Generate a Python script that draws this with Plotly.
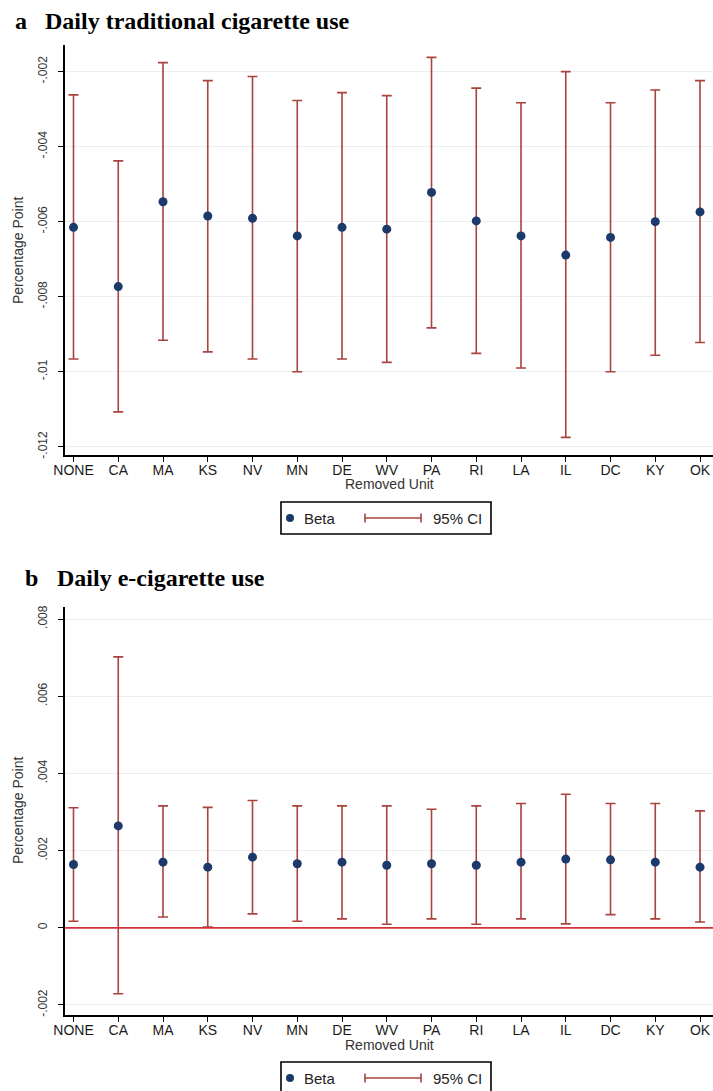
import plotly.graph_objects as go
import numpy as np

units = ["NONE", "CA", "MA", "KS", "NV", "MN", "DE", "WV", "PA", "RI", "LA", "IL", "DC", "KY", "OK"]

# Panel a: Daily traditional cigarette use
beta_a = [-0.00615, -0.00773, -0.00547, -0.00585, -0.00591, -0.00638, -0.00615, -0.00620,
          -0.00522, -0.00598, -0.00638, -0.00689, -0.00642, -0.00600, -0.00574]
upper_a = [-0.00262, -0.00438, -0.00176, -0.00224, -0.00213, -0.00277, -0.00256, -0.00264,
           -0.00162, -0.00244, -0.00283, -0.00200, -0.00283, -0.00249, -0.00224]
lower_a = [-0.00966, -0.01107, -0.00916, -0.00947, -0.00966, -0.01000, -0.00966, -0.00975,
           -0.00883, -0.00951, -0.00990, -0.01175, -0.01000, -0.00956, -0.00922]

# Panel b: Daily e-cigarette use
beta_b = [0.00164, 0.00264, 0.00170, 0.00157, 0.00183, 0.00166, 0.00170, 0.00162,
          0.00166, 0.00162, 0.00170, 0.00178, 0.00176, 0.00170, 0.00157]
upper_b = [0.00311, 0.00702, 0.00316, 0.00312, 0.00330, 0.00316, 0.00316, 0.00316,
           0.00307, 0.00316, 0.00322, 0.00346, 0.00322, 0.00322, 0.00303]
lower_b = [0.00017, -0.00171, 0.00028, 0.00002, 0.00036, 0.00017, 0.00023, 0.00009,
           0.00023, 0.00009, 0.00023, 0.00010, 0.00034, 0.00023, 0.00015]

ticks_a = [-0.012, -0.010, -0.008, -0.006, -0.004, -0.002]
ticktext_a = ["-.012", "-.01", "-.008", "-.006", "-.004", "-.002"]
ticks_b = [-0.002, 0.0, 0.002, 0.004, 0.006, 0.008]
ticktext_b = ["-.002", "0", ".002", ".004", ".006", ".008"]

W, H = 713, 1091
def px(x):
    return x / W
def py(y):
    return 1 - y / H

NAVY = "#1b3a6b"
CI = "#a8433d"
GRID = "#eceff2"
SANS = "Liberation Sans, Arial, sans-serif"
TICKFONT = dict(family=SANS, size=14, color="#1a1a1a")
YTICKFONT = dict(family=SANS, size=12, color="#333")

fig = go.Figure()

def add_panel(beta, upper, lower, xa, ya):
    b = np.array(beta); u = np.array(upper); l = np.array(lower)
    fig.add_trace(go.Scatter(
        x=units, y=b, mode="markers", xaxis=xa, yaxis=ya, showlegend=False,
        marker=dict(color=NAVY, size=9, symbol="circle"),
        error_y=dict(type="data", symmetric=False, array=u - b, arrayminus=b - l,
                     color=CI, thickness=1.6, width=5),
    ))

add_panel(beta_a, upper_a, lower_a, "x", "y")
add_panel(beta_b, upper_b, lower_b, "x2", "y2")

xdom = [px(65), 1.0]
dom_a = [py(455), py(45)]
dom_b = [py(1015), py(606.7)]

common_x = dict(type="category", range=[-0.19, 14.29], showline=True, linecolor="black",
                linewidth=1.5, ticks="outside", ticklen=5, tickwidth=1.2, tickcolor="black",
                showgrid=False, zeroline=False, tickfont=TICKFONT, fixedrange=True,
                automargin=False, ticklabelstandoff=-4)
common_y = dict(showline=True, linecolor="black", linewidth=1.5, ticks="outside", ticklen=5,
                tickwidth=1.2, tickcolor="black", showgrid=True, gridcolor=GRID, gridwidth=1,
                zeroline=False, tickangle=-90, tickfont=YTICKFONT, tickmode="array",
                automargin=False, ticklabelstandoff=6)

fig.update_layout(
    width=W, height=H, autosize=False,
    margin=dict(l=0, r=0, t=0, b=0, pad=0),
    paper_bgcolor="white", plot_bgcolor="white",
    xaxis=dict(common_x, domain=xdom, anchor="y"),
    yaxis=dict(common_y, domain=dom_a, anchor="x", range=[-0.01222, -0.00129],
               tickvals=ticks_a, ticktext=ticktext_a),
    xaxis2=dict(common_x, domain=xdom, anchor="y2"),
    yaxis2=dict(common_y, domain=dom_b, anchor="x2", range=[-0.00226, 0.00832],
                tickvals=ticks_b, ticktext=ticktext_b),
    showlegend=False,
)

# zero reference line in panel b
fig.add_shape(type="line", xref="x2 domain", yref="y2", x0=0, x1=1, y0=0, y1=0,
              line=dict(color="#d0343a", width=1.8))

ann = []
TITLEFONT = dict(family="Liberation Serif, Times New Roman, serif", size=24, color="black")
LABFONT = dict(family=SANS, size=14, color="#333")
XLABFONT = dict(family=SANS, size=14, color="#333")
LEGFONT = dict(family=SANS, size=15, color="#222")

def panel_text(letter, title, lx, tx, ty, ytitle_c, xlab_y, leg_top, leg_bot):
    ann.append(dict(text="<b>%s</b>" % letter, x=px(lx), y=py(ty), xref="paper", yref="paper",
                    xanchor="left", yanchor="middle", showarrow=False, font=TITLEFONT))
    ann.append(dict(text="<b>%s</b>" % title, x=px(tx), y=py(ty), xref="paper", yref="paper",
                    xanchor="left", yanchor="middle", showarrow=False, font=TITLEFONT))
    ann.append(dict(text="Percentage Point", x=px(18), y=py(ytitle_c), xref="paper", yref="paper",
                    xanchor="center", yanchor="middle", showarrow=False, textangle=-90,
                    font=LABFONT))
    ann.append(dict(text="Removed Unit", x=px(389), y=py(xlab_y), xref="paper", yref="paper",
                    xanchor="center", yanchor="middle", showarrow=False, font=XLABFONT))
    cy = (leg_top + leg_bot) / 2 if leg_bot < H else leg_top + 16
    ann.append(dict(text="Beta", x=px(302), y=py(cy), xref="paper", yref="paper",
                    xanchor="left", yanchor="middle", showarrow=False, font=LEGFONT))
    ann.append(dict(text="95% CI", x=px(431), y=py(cy), xref="paper", yref="paper",
                    xanchor="left", yanchor="middle", showarrow=False, font=LEGFONT))
    # legend box
    fig.add_shape(type="rect", xref="paper", yref="paper", x0=px(281), x1=px(491),
                  y0=py(leg_bot), y1=py(leg_top), line=dict(color="black", width=1.6),
                  fillcolor="rgba(0,0,0,0)")
    fig.add_shape(type="circle", xref="paper", yref="paper", x0=px(286), x1=px(294),
                  y0=py(cy + 4), y1=py(cy - 4), line=dict(color=NAVY, width=0),
                  fillcolor=NAVY)
    fig.add_shape(type="line", xref="paper", yref="paper", x0=px(365), x1=px(421),
                  y0=py(cy), y1=py(cy), line=dict(color=CI, width=1.6))
    for xx in (365, 421):
        fig.add_shape(type="line", xref="paper", yref="paper", x0=px(xx), x1=px(xx),
                      y0=py(cy - 4.5), y1=py(cy + 4.5), line=dict(color=CI, width=1.6))

panel_text("a", "Daily traditional cigarette use", 13, 43, 21, 250, 484, 502, 534)
panel_text("b", "Daily e-cigarette use", 23, 55, 578, 810, 1045, 1062, 1095)

fig.update_layout(annotations=ann)
fig.write_html(
    "out.html",
    config={"displayModeBar": False},
    post_script="document.body.style.margin='0';document.body.style.padding='0';"
                "document.body.style.overflow='hidden';"
                "document.documentElement.style.overflow='hidden';",
)
